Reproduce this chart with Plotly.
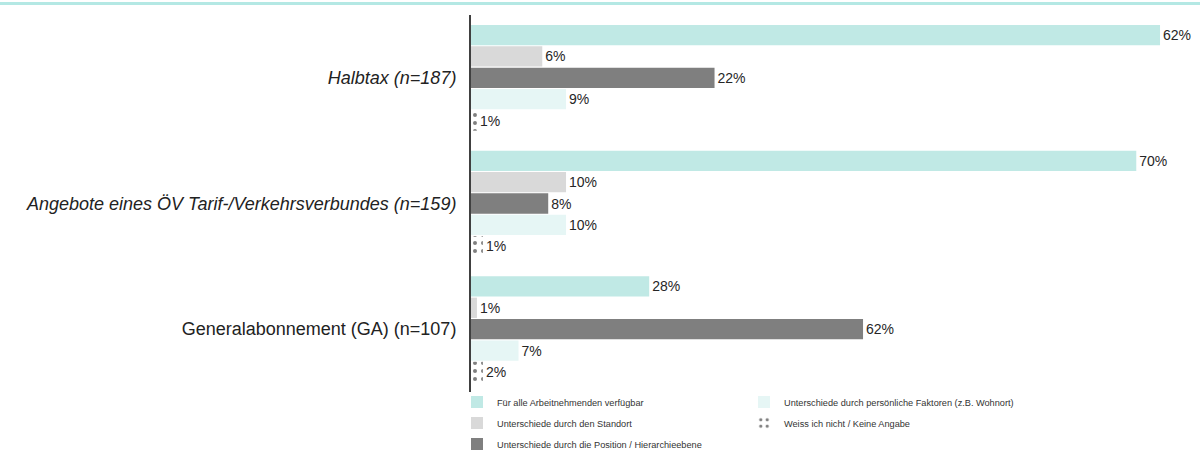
import plotly.graph_objects as go

# ---------------- data ----------------
categories = [
    "<i>Halbtax (n=187)</i>",
    "<i>Angebote eines ÖV Tarif-/Verkehrsverbundes (n=159)</i>",
    "Generalabonnement (GA) (n=107)",
]
series_names = [
    "Für alle Arbeitnehmenden verfügbar",
    "Unterschiede durch den Standort",
    "Unterschiede durch die Position / Hierarchieebene",
    "Unterschiede durch persönliche Faktoren (z.B. Wohnort)",
    "Weiss ich nicht / Keine Angabe",
]
# bar lengths (respondent counts) and printed percentages
counts_alle = [116, 112, 30]
counts_standort = [12, 16, 1]
counts_position = [41, 13, 66]
counts_persoenlich = [16, 16, 8]
counts_weissnicht = [1, 2, 2]

pct_alle = ["62%", "70%", "28%"]
pct_standort = ["6%", "10%", "1%"]
pct_position = ["22%", "8%", "62%"]
pct_persoenlich = ["9%", "10%", "7%"]
pct_weissnicht = ["1%", "1%", "2%"]

counts = [counts_alle, counts_standort, counts_position, counts_persoenlich, counts_weissnicht]
pcts = [pct_alle, pct_standort, pct_position, pct_persoenlich, pct_weissnicht]
colors = ["#c0e9e5", "#d9d9d9", "#7f7f7f", "#e6f6f5", "#ffffff"]
legends = ["legend", "legend", "legend", "legend2", "legend2"]

FONT = "Liberation Sans, Arial, sans-serif"

fig = go.Figure()
for i in range(5):
    marker = dict(color=colors[i], line=dict(width=0))
    if i == 4:
        marker["pattern"] = dict(shape=".", fgcolor="#000000", bgcolor="#ffffff",
                                 size=8, solidity=0.2)
    fig.add_trace(go.Bar(
        y=categories, x=counts[i], orientation="h", name=series_names[i],
        marker=marker, text=pcts[i], textposition="outside",
        textfont=dict(size=14, color="#262626", family=FONT),
        constraintext="none", cliponaxis=False,
        legend=legends[i], legendgroup=f"g{i}", hoverinfo="skip",
    ))

W, H = 1200, 465
L, R, T = 471, 5, 15
plot_bottom = 392
B = H - plot_bottom
pw, ph = W - L - R, plot_bottom - T

fig.update_layout(
    width=W, height=H,
    margin=dict(l=L, r=R, t=T, b=B),
    paper_bgcolor="white", plot_bgcolor="white",
    barmode="group", bargap=0.15, bargroupgap=0.05,
    font=dict(family=FONT, color="#222222"),
    xaxis=dict(range=[0, pw / 5.94], visible=False, showgrid=False, zeroline=False),
    yaxis=dict(autorange="reversed", showline=True, linecolor="#404040", linewidth=2,
               ticks="", showgrid=False, ticklabelstandoff=9,
               tickfont=dict(size=18, color="#222222", family=FONT)),
    legend=dict(x=(457 - L) / pw, y=(plot_bottom - 387.5) / ph, xanchor="left", yanchor="top",
                orientation="v", font=dict(size=9.2, color="#333333", family=FONT),
                tracegroupgap=2, itemwidth=30, bgcolor="rgba(0,0,0,0)"),
    legend2=dict(x=(744 - L) / pw, y=(plot_bottom - 387.5) / ph, xanchor="left", yanchor="top",
                 orientation="v", font=dict(size=9.2, color="#333333", family=FONT),
                 tracegroupgap=2, itemwidth=30, bgcolor="rgba(0,0,0,0)"),
    shapes=[dict(type="line", xref="paper", yref="paper",
                 x0=-L / pw, x1=(W - L) / pw, y0=1 + 11.5 / ph, y1=1 + 11.5 / ph,
                 line=dict(color="#b4e8e4", width=3))],
)

fig.write_html(
    "out.html",
    config={"displayModeBar": False},
    post_script="document.body.style.margin='0';document.body.style.overflow='hidden';",
)
